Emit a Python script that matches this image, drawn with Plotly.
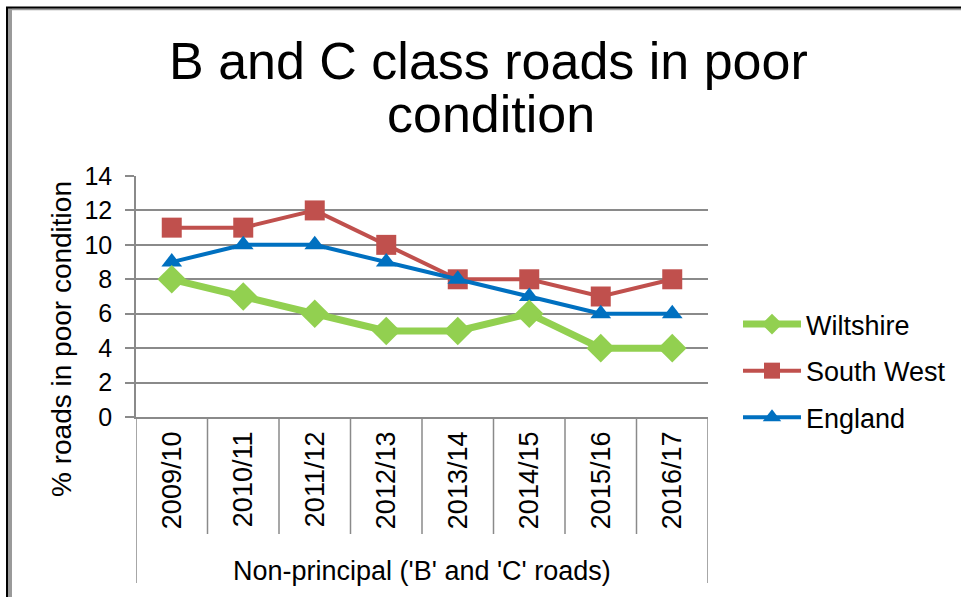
import plotly.graph_objects as go

# ---- data ----
years = ["2009/10", "2010/11", "2011/12", "2012/13", "2013/14", "2014/15", "2015/16", "2016/17"]
wiltshire = [8, 7, 6, 5, 5, 6, 4, 4]
south_west = [11, 11, 12, 10, 8, 8, 7, 8]
england = [9, 10, 10, 9, 8, 7, 6, 6]
group_label = "Non-principal ('B' and 'C' roads)"
title_lines = ["B and C class roads in poor", "condition"]
y_title = "% roads in poor condition"

W, H = 961, 597
L, R, T, B = 136, 253, 176, 180
PW, PH = W - L - R, H - T - B

def px_x(px):
    return (px - L) / PW

def px_y(py):
    return (H - B - py) / PH

FONT = "Liberation Sans, Arial, sans-serif"
GRID = "#8a8a8a"

fig = go.Figure()
fig.add_trace(go.Scatter(x=years, y=south_west, name="South West", mode="lines+markers",
                         line=dict(color="#C0504D", width=4),
                         marker=dict(symbol="square", size=20, color="#C0504D"),
                         legendrank=2, legendgroup="sw"))
fig.add_trace(go.Scatter(x=years, y=england, name="England", mode="lines+markers",
                         line=dict(color="#0070C0", width=4),
                         marker=dict(symbol="triangle-up", size=18, color="#0070C0"),
                         legendrank=3, legendgroup="en"))
fig.add_trace(go.Scatter(x=years, y=wiltshire, name="Wiltshire", mode="lines+markers",
                         line=dict(color="#92D050", width=7),
                         marker=dict(symbol="diamond", size=22, color="#92D050"),
                         legendrank=1, legendgroup="wi"))

shapes = []
# category separators below the axis
for k in range(len(years) + 1):
    outer = k == 0 or k == len(years)
    shapes.append(dict(type="line", xref="x", yref="paper", x0=k - 0.5, x1=k - 0.5,
                       y0=0, y1=px_y(583 if outer else 534),
                       line=dict(color=GRID, width=1.5)))
# chart frame (left and top edges)
shapes.append(dict(type="line", xref="paper", yref="paper", x0=px_x(10), x1=px_x(10),
                   y0=px_y(8), y1=px_y(H + 5), line=dict(color="#9a9a9a", width=4)))
shapes.append(dict(type="line", xref="paper", yref="paper", x0=px_x(7), x1=px_x(7),
                   y0=px_y(7), y1=px_y(H + 5), line=dict(color="#000000", width=2)))
shapes.append(dict(type="line", xref="paper", yref="paper", x0=px_x(8), x1=px_x(W + 5),
                   y0=px_y(9.3), y1=px_y(9.3), line=dict(color="#9a9a9a", width=2)))
shapes.append(dict(type="line", xref="paper", yref="paper", x0=px_x(6), x1=px_x(W + 5),
                   y0=px_y(7.5), y1=px_y(7.5), line=dict(color="#000000", width=2)))

annotations = [
    dict(text=title_lines[0], xref="paper", yref="paper", x=px_x(489), y=px_y(61.5),
         xanchor="center", yanchor="middle", showarrow=False,
         font=dict(family=FONT, size=52, color="black")),
    dict(text=title_lines[1], xref="paper", yref="paper", x=px_x(491), y=px_y(114),
         xanchor="center", yanchor="middle", showarrow=False,
         font=dict(family=FONT, size=52, color="black")),
    dict(text=y_title, xref="paper", yref="paper", x=px_x(61), y=px_y(339),
         xanchor="center", yanchor="middle", textangle=-90, showarrow=False,
         font=dict(family=FONT, size=28, color="black")),
    dict(text=group_label, xref="paper", yref="paper", x=px_x(421.5), y=px_y(571),
         xanchor="center", yanchor="middle", showarrow=False,
         font=dict(family=FONT, size=27, color="black")),
]

fig.update_layout(
    width=W, height=H,
    margin=dict(l=L, r=R, t=T, b=B, pad=0, autoexpand=False),
    paper_bgcolor="white", plot_bgcolor="white",
    font=dict(family=FONT, size=26, color="black"),
    showlegend=True,
    legend=dict(x=px_x(738), y=px_y(300), xanchor="left", yanchor="top",
                font=dict(family=FONT, size=27, color="black"),
                bgcolor="rgba(0,0,0,0)", traceorder="grouped", tracegroupgap=8.5,
                itemwidth=58),
    shapes=shapes,
    annotations=annotations,
)
fig.update_xaxes(type="category", categoryorder="array", categoryarray=years,
                 range=[-0.5, len(years) - 0.5], tickangle=-90, ticks="",
                 showline=True, linecolor=GRID, linewidth=1.5, showgrid=False,
                 tickfont=dict(family=FONT, size=27, color="black"),
                 ticklabelstandoff=2, zeroline=False, automargin=False)
fig.update_yaxes(range=[0, 14], dtick=2, tick0=0, showgrid=True, gridcolor=GRID, gridwidth=1.5,
                 showline=True, linecolor=GRID, linewidth=1.5,
                 ticks="outside", ticklen=9, tickcolor=GRID, tickwidth=1.5,
                 tickfont=dict(family=FONT, size=25, color="black"),
                 ticklabelstandoff=8, zeroline=False, automargin=False)

fig.write_html("out.html", config={"displayModeBar": False},
               post_script="document.body.style.margin='0';")
